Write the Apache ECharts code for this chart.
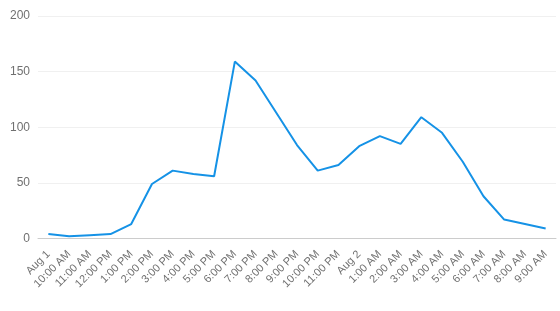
<!DOCTYPE html>
<html><head><meta charset="utf-8">
<script src="https://cdn.jsdelivr.net/npm/echarts@6/dist/echarts.min.js"></script>
<style>html,body{margin:0;padding:0;background:#fff}#c{width:560px;height:311px}</style>
</head><body><div id="c"></div>
<script>
const categories = ["Aug 1","10:00 AM","11:00 AM","12:00 PM","1:00 PM","2:00 PM","3:00 PM","4:00 PM","5:00 PM","6:00 PM","7:00 PM","8:00 PM","9:00 PM","10:00 PM","11:00 PM","Aug 2","1:00 AM","2:00 AM","3:00 AM","4:00 AM","5:00 AM","6:00 AM","7:00 AM","8:00 AM","9:00 AM"];
const values = [4,2,3,4,13,49,61,58,56,159,142,113,84,61,66,83,92,85,109,95,69,38,17,13,9];
const yTicks = {min:0, max:200, interval:50};
const chart = echarts.init(document.getElementById('c'));
chart.setOption({
  animation:false,
  grid:{left:38, right:4, top:16, bottom:72.5},
  xAxis:{type:'category', data:categories, boundaryGap:true,
    axisTick:{alignWithLabel:true, length:4, lineStyle:{color:'#ccc'}},
    axisLine:{lineStyle:{color:'#ccc'}},
    axisLabel:{rotate:45, interval:0, color:'#707070', fontSize:11, fontFamily:'Arial, Liberation Sans, sans-serif', margin:14}},
  yAxis:{type:'value', min:yTicks.min, max:yTicks.max, interval:yTicks.interval,
    axisLabel:{color:'#707070', fontSize:12, fontFamily:'Arial, Liberation Sans, sans-serif'},
    splitLine:{lineStyle:{color:'#f0f0f0'}}},
  series:[{type:'line', data:values, showSymbol:false, symbol:'none',
    lineStyle:{color:'#1592e6', width:2}, itemStyle:{color:'#1592e6'}}]
});
</script></body></html>
